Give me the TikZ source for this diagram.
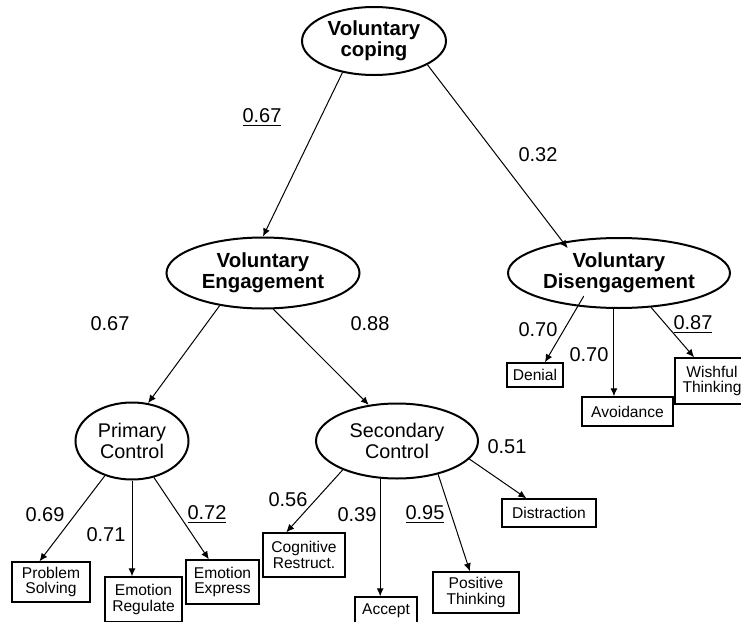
\documentclass[tikz,border=0pt]{standalone}
\usepackage{fontspec}
\setmainfont{Liberation Sans}
\usetikzlibrary{shapes.geometric,arrows.meta}

\tikzset{
  latent/.style={ellipse, draw, line width=1pt, inner sep=0pt, align=center,
    font=\fontsize{10.2}{10.6}\selectfont\bfseries},
  factor/.style={ellipse, draw, line width=1pt, inner sep=0pt, align=center,
    font=\fontsize{9.9}{10.3}\selectfont},
  obs/.style={rectangle, draw, line width=0.7pt, inner sep=1pt, align=center,
    font=\fontsize{7.8}{7.6}\selectfont},
  coef/.style={inner sep=0pt, font=\fontsize{10}{12}\selectfont},
  link/.style={-{Latex[length=4pt,width=3.5pt]}, line width=0.5pt}
}

\begin{document}
\begin{tikzpicture}[x=0.5pt, y=-0.5pt]
  \useasboundingbox (0,0) rectangle (741,622);
  % latent factors
  \node[latent, minimum width=72pt, minimum height=34pt] (coping) at (374,41) {Voluntary\\coping};
  \node[latent, minimum width=96.5pt, minimum height=35.5pt] (eng) at (263,273) {Voluntary\\Engagement};
  \node[latent, minimum width=111pt, minimum height=35pt] (dis) at (619,273) {Voluntary\\Disengagement};
  \node[factor, minimum width=56.5pt, minimum height=38.5pt] (pc) at (132,441) {Primary\\Control};
  \node[factor, minimum width=81pt, minimum height=37.5pt] (sc) at (397,441) {Secondary\\Control};
  % indicators
  \node[obs, minimum width=39pt, minimum height=20pt] (ps) at (51,582) {Problem\\Solving};
  \node[obs, minimum width=38.5pt, minimum height=22.5pt] (er) at (143.5,599.5) {Emotion\\Regulate};
  \node[obs, minimum width=36.5pt, minimum height=22pt] (ee) at (222.5,582) {Emotion\\Express};
  \node[obs, minimum width=41pt, minimum height=22pt] (cr) at (304,555) {Cognitive\\Restruct.};
  \node[obs, minimum width=31pt, minimum height=14pt] (acc) at (386,611) {Accept};
  \node[obs, minimum width=43pt, minimum height=20.5pt] (pt) at (476,592.5) {Positive\\Thinking};
  \node[obs, minimum width=47pt, minimum height=14pt] (dist) at (549,513) {Distraction};
  \node[obs, minimum width=28pt, minimum height=12pt] (den) at (535,375) {Denial};
  \node[obs, minimum width=45.5pt, minimum height=14.5pt] (av) at (627.5,411.5) {Avoidance};
  \node[obs, minimum width=37pt, minimum height=23pt] (wt) at (712,381) {Wishful\\Thinking};
  % paths
  \draw[link] (coping.225) -- (eng.north);
  \draw[link, shorten >=-4pt] (coping.-24) -- (dis.151);
  \draw[link] (eng.217) -- (pc.67);
  \draw[link] (eng.-74) -- (sc.128);
  \draw[link] (pc.232) -- (ps.119);
  \draw[link] (pc.south) -- (pc.south |- er.north);
  \draw[link] (pc.-59) -- (ee.121);
  \draw[link] (sc.208) -- (cr.128);
  \draw[link] (sc.246) -- (sc.246 |- acc.north);
  \draw[link] (sc.-39) -- (pt.106);
  \draw[link] (sc.-14) -- (dist.147);
  \draw[link, shorten <=-6pt] (dis.219) -- (den.52);
  \draw[link] (dis.262) -- (dis.262 |- av.north);
  \draw[link] (dis.-47) -- (wt.127);
  % loadings
  \node[coef] (c-eng) at (262,118) {\underline{0.67}};
  \node[coef] (c-dis) at (538,155) {0.32};
  \node[coef] (c-pc) at (110,324) {0.67};
  \node[coef] (c-sc) at (370,324) {0.88};
  \node[coef] (c-ps) at (45,515) {0.69};
  \node[coef] (c-er) at (106,535) {0.71};
  \node[coef] (c-ee) at (207,515) {\underline{0.72}};
  \node[coef] (c-cr) at (288,500) {0.56};
  \node[coef] (c-acc) at (357,515) {0.39};
  \node[coef] (c-pt) at (425,515) {\underline{0.95}};
  \node[coef] (c-dist) at (507,447) {0.51};
  \node[coef] (c-den) at (538,330) {0.70};
  \node[coef] (c-av) at (589,355) {0.70};
  \node[coef] (c-wt) at (693,325) {\underline{0.87}};
\end{tikzpicture}
\end{document}
